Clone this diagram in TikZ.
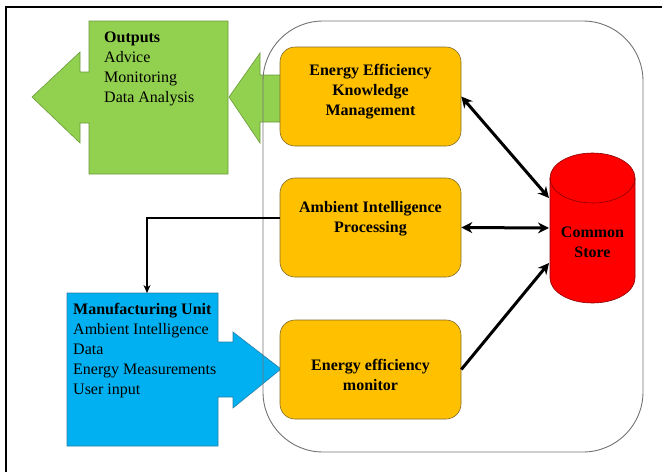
\documentclass[tikz,border=0pt]{standalone}
\usepackage{fontspec}
\setmainfont{Liberation Serif}
\usetikzlibrary{arrows.meta}
\definecolor{gfill}{HTML}{92D050}
\definecolor{gline}{HTML}{6B9A3C}
\definecolor{bfill}{HTML}{00B0F0}
\definecolor{bline}{HTML}{2A7FA8}
\definecolor{ofill}{HTML}{FFC000}
\definecolor{oline}{HTML}{7F6A2A}
\definecolor{rfill}{HTML}{FF0000}
\definecolor{rline}{HTML}{8A0000}
\tikzset{
  txt/.style={font=\fontsize{16}{20}\selectfont, align=left, inner sep=0pt, anchor=north west},
  obox/.style={draw=oline, line width=0.6pt, fill=ofill, rounded corners=15pt, minimum width=181pt, minimum height=99pt, inner sep=0pt},
  otext/.style={font=\fontsize{16}{20}\selectfont\bfseries, align=center, inner sep=0pt},
  conn/.style={line width=3pt, {Stealth[length=11pt,width=11pt]}-{Stealth[length=11pt,width=11pt]}},
  conn1/.style={line width=3pt, -{Stealth[length=11pt,width=11pt]}},
  thinconn/.style={line width=2pt, -{Stealth[length=8pt,width=7pt]}},
}
\begin{document}
\begin{tikzpicture}[x=1pt,y=1pt]
\useasboundingbox (0,0) rectangle (662,-472);
% outer frame
\draw[line width=2.2pt] (6,-472) -- (6,-7) -- (662,-7);
% green output shape
\draw[fill=gfill, draw=gline, line width=0.6pt] (89,-21) -- (228,-21) -- (228,-174) -- (89,-174) -- (89,-123) -- (80,-123) -- (80,-143) -- (32,-97) -- (80,-52) -- (80,-72) -- (89,-72) -- cycle;
\node[txt] (outputs) at (104,-32) {\textbf{Outputs}\\Advice\\Monitoring\\Data Analysis};
% green arrow from EEKM
\draw[fill=gfill, draw=gline, line width=0.6pt] (281,-75) -- (260,-75) -- (260,-53) -- (229,-97) -- (260,-143) -- (260,-122) -- (281,-122);
% blue manufacturing shape
\draw[fill=bfill, draw=bline, line width=0.6pt] (67,-293) -- (218,-293) -- (218,-342) -- (233,-342) -- (233,-332) -- (281,-369) -- (233,-408) -- (233,-397) -- (218,-397) -- (218,-446) -- (67,-446) -- cycle;
\node[txt] (manu) at (73,-303) {\textbf{Manufacturing Unit}\\Ambient Intelligence\\Data\\Energy Measurements\\User input};
\coordinate (manutop) at (147,-293);
% container
\draw[draw=black!55, line width=0.9pt, rounded corners=60pt] (263,-21) rectangle (643,-452);
% orange boxes
\node[obox] (eekm) at (370.5,-96.5) {};
\node[otext] at (370.5,-92) {Energy Efficiency\\Knowledge\\Management};
\node[obox] (aip) at (370.5,-227.5) {};
\node[otext] at (370.5,-219) {Ambient Intelligence\\Processing};
\node[obox] (eem) at (370.5,-369.5) {};
\node[otext] at (370.5,-375) {Energy efficiency\\monitor};
% cylinder
\draw[fill=rfill, draw=rline, line width=0.6pt] (550,-178) -- (550,-278) arc[start angle=180, end angle=360, x radius=42.5, y radius=25] -- (635,-178) arc[start angle=0, end angle=180, x radius=42.5, y radius=25] -- cycle;
\draw[draw=rline, line width=0.6pt] (550,-178) arc[start angle=180, end angle=360, x radius=42.5, y radius=25];
\node[otext] (store) at (592.5,-242) {Common\\Store};
\coordinate (s1) at (549,-198);
\coordinate (s2) at (549,-228);
\coordinate (s3) at (549,-263);
% connectors
\draw[conn] (eekm.east) -- (s1);
\draw[conn] (aip.east) -- (s2);
\draw[conn1] (eem.east) -- (s3);
\draw[thinconn] ([yshift=9.5pt]aip.west) -| (manutop);
\end{tikzpicture}
\end{document}
